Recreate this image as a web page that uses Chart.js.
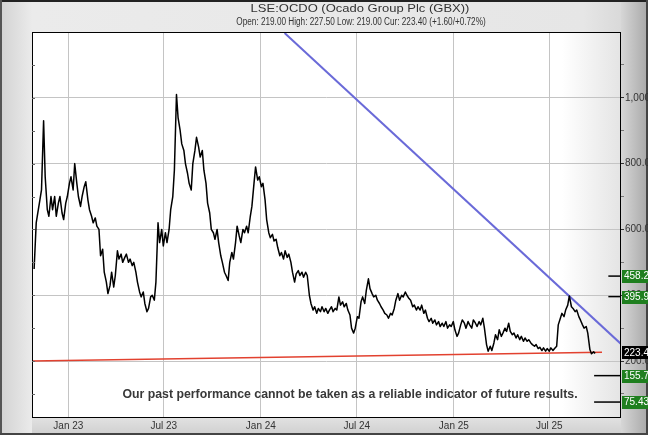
<!DOCTYPE html>
<html><head><meta charset="utf-8">
<script src="https://cdn.jsdelivr.net/npm/chart.js@4.4.1/dist/chart.umd.min.js"></script>
<style>
html,body{margin:0;padding:0;background:#e6e6e6;overflow:hidden;}
canvas{display:block;}
</style></head><body>
<canvas id="c" width="648" height="435"></canvas>
<script>
// Friday closes
const dates = [
'2022-10-28','2022-11-04','2022-11-11','2022-11-18','2022-11-25','2022-12-02','2022-12-09','2022-12-16','2022-12-23','2022-12-30',
'2023-01-06','2023-01-13','2023-01-20','2023-01-27','2023-02-03','2023-02-10','2023-02-17','2023-02-24',
'2023-03-03','2023-03-10','2023-03-17','2023-03-24','2023-03-31','2023-04-07','2023-04-14','2023-04-21','2023-04-28',
'2023-05-05','2023-05-12','2023-05-19','2023-05-26','2023-06-02','2023-06-09','2023-06-16','2023-06-23','2023-06-30',
'2023-07-07','2023-07-14','2023-07-21','2023-07-28','2023-08-04','2023-08-11','2023-08-18','2023-08-25',
'2023-09-01','2023-09-08','2023-09-15','2023-09-22','2023-09-29','2023-10-06','2023-10-13','2023-10-20','2023-10-27',
'2023-11-03','2023-11-10','2023-11-17','2023-11-24','2023-12-01','2023-12-08','2023-12-15','2023-12-22','2023-12-29',
'2024-01-05','2024-01-12','2024-01-19','2024-01-26','2024-02-02','2024-02-09','2024-02-16','2024-02-23',
'2024-03-01','2024-03-08','2024-03-15','2024-03-22','2024-03-29','2024-04-05','2024-04-12','2024-04-19','2024-04-26',
'2024-05-03','2024-05-10','2024-05-17','2024-05-24','2024-05-31','2024-06-07','2024-06-14','2024-06-21','2024-06-28',
'2024-07-05','2024-07-12','2024-07-19','2024-07-26','2024-08-02','2024-08-09','2024-08-16','2024-08-23','2024-08-30',
'2024-09-06','2024-09-13','2024-09-20','2024-09-27','2024-10-04','2024-10-11','2024-10-18','2024-10-25',
'2024-11-01','2024-11-08','2024-11-15','2024-11-22','2024-11-29','2024-12-06','2024-12-13','2024-12-20','2024-12-27',
'2025-01-03','2025-01-10','2025-01-17','2025-01-24','2025-01-31','2025-02-07','2025-02-14','2025-02-21','2025-02-28',
'2025-03-07','2025-03-14','2025-03-21','2025-03-28','2025-04-04','2025-04-11','2025-04-18','2025-04-25',
'2025-05-02','2025-05-09','2025-05-16','2025-05-23','2025-05-30','2025-06-06','2025-06-13','2025-06-20','2025-06-27',
'2025-07-04','2025-07-11','2025-07-18','2025-07-25','2025-08-01','2025-08-08','2025-08-15','2025-08-22','2025-08-29',
'2025-09-05','2025-09-12','2025-09-19','2025-09-26'
];
const prices = [
480,650,720,760,640,660,640,700,630,700,
760,800,700,700,745,660,620,610,
520,470,405,470,460,510,500,525,510,
500,440,395,375,360,400,440,560,550,
560,660,780,940,860,800,740,800,
880,820,780,680,600,570,560,500,460,
500,510,610,560,590,590,670,790,760,
740,630,575,565,545,530,535,525,
470,465,460,455,460,375,365,360,365,
360,355,350,355,370,365,355,300,300,
330,395,415,420,395,385,365,345,330,
340,385,385,395,400,385,370,365,
370,355,320,315,310,305,305,300,305,
295,285,325,300,310,325,305,310,300,
230,232,280,295,285,290,290,285,
280,275,270,265,250,250,242,240,238,
240,238,310,345,355,398,360,355,325,
300,285,222,223.4
];
// Tuesday closes
const midDates = [
'2022-11-01','2022-11-08','2022-11-15','2022-11-22','2022-11-29','2022-12-06','2022-12-13','2022-12-20','2022-12-27','2023-01-03',
'2023-01-10','2023-01-17','2023-01-24','2023-01-31','2023-02-07','2023-02-14','2023-02-21','2023-02-28',
'2023-03-07','2023-03-14','2023-03-21','2023-03-28','2023-04-04','2023-04-11','2023-04-18','2023-04-25','2023-05-02',
'2023-05-09','2023-05-16','2023-05-23','2023-05-30','2023-06-06','2023-06-13','2023-06-20','2023-06-27','2023-07-04',
'2023-07-11','2023-07-18','2023-07-25','2023-08-01','2023-08-08','2023-08-15','2023-08-22','2023-08-29',
'2023-09-05','2023-09-12','2023-09-19','2023-09-26','2023-10-03','2023-10-10','2023-10-17','2023-10-24','2023-10-31',
'2023-11-07','2023-11-14','2023-11-21','2023-11-28','2023-12-05','2023-12-12','2023-12-19','2023-12-26','2024-01-02',
'2024-01-09','2024-01-16','2024-01-23','2024-01-30','2024-02-06','2024-02-13','2024-02-20','2024-02-27',
'2024-03-05','2024-03-12','2024-03-19','2024-03-26','2024-04-02','2024-04-09','2024-04-16','2024-04-23','2024-04-30',
'2024-05-07','2024-05-14','2024-05-21','2024-05-28','2024-06-04','2024-06-11','2024-06-18','2024-06-25','2024-07-02',
'2024-07-09','2024-07-16','2024-07-23','2024-07-30','2024-08-06','2024-08-13','2024-08-20','2024-08-27','2024-09-03',
'2024-09-10','2024-09-17','2024-09-24','2024-10-01','2024-10-08','2024-10-15','2024-10-22','2024-10-29',
'2024-11-05','2024-11-12','2024-11-19','2024-11-26','2024-12-03','2024-12-10','2024-12-17','2024-12-24','2024-12-31',
'2025-01-07','2025-01-14','2025-01-21','2025-01-28','2025-02-04','2025-02-11','2025-02-18','2025-02-25','2025-03-04',
'2025-03-11','2025-03-18','2025-03-25','2025-04-01','2025-04-08','2025-04-15','2025-04-22','2025-04-29',
'2025-05-06','2025-05-13','2025-05-20','2025-05-27','2025-06-03','2025-06-10','2025-06-17','2025-06-24','2025-07-01',
'2025-07-08','2025-07-15','2025-07-22','2025-07-29','2025-08-05','2025-08-12','2025-08-19','2025-08-26','2025-09-02',
'2025-09-09','2025-09-16','2025-09-23'
];
const midPrices = [
620,690,930,660,700,700,680,650,680,740,
720,740,670,730,690,640,635,600,
540,440,430,425,535,525,515,500,490,
470,410,410,350,395,385,620,600,590,
600,700,1010,900,840,770,720,840,
850,840,740,650,590,600,520,470,445,
530,560,580,600,610,640,740,750,730,
690,590,585,570,520,510,515,500,
440,475,470,470,400,355,345,350,350,
345,365,360,395,380,375,340,285,335,
380,375,450,405,400,375,355,340,345,
360,405,400,410,390,365,355,355,
345,330,330,325,320,315,320,310,320,
275,310,315,320,300,315,320,330,250,
245,255,265,275,300,315,280,270,
265,260,260,255,245,238,232,230,230,
232,245,330,335,370,365,350,335,310,
305,235,228
];
const xRange = ['2022-10-24','2025-11-14'];
const yRange = [30, 1200];
const yTickValues = [100,200,300,400,500,600,700,800,900,1000,1100];
const tickDates = ['2023-01-01','2023-07-01','2024-01-01','2024-07-01','2025-01-01','2025-07-01'];
const tickLabels = ['Jan 23','Jul 23','Jan 24','Jul 24','Jan 25','Jul 25'];
const resistanceDates = ['2024-02-15','2025-11-14'];
const resistanceValues = [1197, 252];
const supportDates = ['2022-10-24','2025-10-09'];
const supportValues = [200, 227];
const levelValues = [458.2, 395.9, 155.7, 75.43];
const levelLabels = ['458.2','395.9','155.7','75.43'];
const levelStartDates = ['2025-10-21','2025-10-21','2025-09-24','2025-09-24'];
const levelEndDate = '2025-11-14';
const currentValue = 223.4;
const currentLabel = '223.4';
const titleText = 'LSE:OCDO (Ocado Group Plc (GBX))';
const subtitleText = 'Open: 219.00 High: 227.50 Low: 219.00 Cur: 223.40 (+1.60/+0.72%)';
const disclaimerText = 'Our past performance cannot be taken as a reliable indicator of future results.';

const FONT = '"Liberation Sans", Arial, sans-serif';
const ORIGIN = Date.UTC(2023,0,1);
function dayNum(s){ const p = s.split('-').map(Number); return (Date.UTC(p[0],p[1]-1,p[2]) - ORIGIN)/86400000; }

const pricePoints = dates.map((d,i)=>({x:dayNum(d), y:prices[i]}))
  .concat(midDates.map((d,i)=>({x:dayNum(d), y:midPrices[i]})))
  .sort((a,b)=>a.x-b.x);

const datasets = [
  {data: pricePoints, borderColor:'#000', borderWidth:1.5, pointRadius:0, tension:0},
  {data: resistanceDates.map((d,i)=>({x:dayNum(d), y:resistanceValues[i]})), borderColor:'#6a6ad8', borderWidth:2, pointRadius:0},
  {data: supportDates.map((d,i)=>({x:dayNum(d), y:supportValues[i]})), borderColor:'#e2412f', borderWidth:1.5, pointRadius:0}
];
levelValues.forEach((v,i)=>{
  datasets.push({data:[{x:dayNum(levelStartDates[i]), y:v},{x:dayNum(levelEndDate), y:v}], borderColor:'#000', borderWidth:1.5, pointRadius:0});
});

const framePlugin = {
  id:'frame',
  beforeDraw(chart){
    const ctx = chart.ctx, W = chart.width, H = chart.height, a = chart.chartArea;
    ctx.save();
    let g = ctx.createLinearGradient(0,0,W,0);
    g.addColorStop(0,'#d2d2d2'); g.addColorStop(0.05,'#ebebeb'); g.addColorStop(0.9,'#e6e6e6'); g.addColorStop(1,'#d0d0d0');
    ctx.fillStyle = g; ctx.fillRect(0,0,W,H);
    g = ctx.createLinearGradient(a.right,0,W,0);
    g.addColorStop(0,'#d6d6d6'); g.addColorStop(1,'#a8a8a8');
    ctx.fillStyle = g; ctx.fillRect(a.right,0,W-a.right,H);
    g = ctx.createLinearGradient(0,a.bottom,0,H);
    g.addColorStop(0,'#e2e2e2'); g.addColorStop(1,'#cfcfcf');
    ctx.fillStyle = g; ctx.fillRect(a.left,a.bottom,a.right-a.left,H-a.bottom);
    ctx.fillStyle = '#222'; ctx.fillRect(0,0,W,2);
    ctx.fillStyle = '#555'; ctx.fillRect(0,0,2,H);
    ctx.fillStyle = '#444'; ctx.fillRect(W-2,0,2,H); ctx.fillRect(0,H-2,W,2);
    g = ctx.createLinearGradient(a.left,0,a.right,0);
    g.addColorStop(0,'#ffffff'); g.addColorStop(0.9,'#ffffff'); g.addColorStop(1,'#e4e4e4');
    ctx.fillStyle = g; ctx.fillRect(a.left,a.top,a.right-a.left,a.bottom-a.top);
    ctx.restore();
  },
  afterDraw(chart){
    const ctx = chart.ctx, a = chart.chartArea, ys = chart.scales.y, W = chart.width;
    ctx.save();
    ctx.strokeStyle = '#000'; ctx.lineWidth = 1;
    ctx.strokeRect(a.left+0.5, a.top+0.5, a.right-a.left-1, a.bottom-a.top);
    ctx.strokeStyle = '#666';
    yTickValues.forEach(v=>{ const y = Math.round(ys.getPixelForValue(v))+0.5; ctx.beginPath(); ctx.moveTo(a.left,y); ctx.lineTo(a.left+3,y); ctx.stroke(); });
    ctx.font = '10px ' + FONT; ctx.textBaseline = 'middle'; ctx.textAlign = 'left';
    levelValues.forEach((v,i)=>{
      const y = ys.getPixelForValue(v);
      ctx.fillStyle = '#1f7f1f'; ctx.fillRect(a.right+1, Math.round(y)-6, W-a.right, 13);
      ctx.fillStyle = '#ffffff'; ctx.fillText(levelLabels[i], a.right+3, y+0.5);
    });
    const yc = ys.getPixelForValue(currentValue);
    ctx.fillStyle = '#000'; ctx.fillRect(a.right+1, Math.round(yc)-7, W-a.right, 13);
    ctx.fillStyle = '#fff'; ctx.fillText(currentLabel, a.right+3, yc-0.5);
    ctx.fillStyle = '#333'; ctx.textAlign = 'center';
    ctx.save();
    ctx.translate(360, 9); ctx.scale(1.13, 1);
    ctx.font = '11.5px ' + FONT; ctx.fillText(titleText, 0, 0);
    ctx.restore();
    ctx.save();
    ctx.translate(361, 22); ctx.scale(0.82, 1);
    ctx.font = '10px ' + FONT; ctx.fillText(subtitleText, 0, 0);
    ctx.restore();
    ctx.font = 'bold 12.3px ' + FONT; ctx.fillStyle = '#383838';
    ctx.fillText(disclaimerText, 350, 395);
    ctx.restore();
  }
};

new Chart(document.getElementById('c'), {
  type:'line',
  data:{datasets},
  options:{
    responsive:false, animation:false, devicePixelRatio:1,
    layout:{padding:{left:32, top:32, right:0, bottom:0}},
    plugins:{legend:{display:false}, tooltip:{enabled:false}, title:{display:false}},
    elements:{line:{borderJoinStyle:'round'}},
    scales:{
      x:{type:'linear', min:dayNum(xRange[0]), max:dayNum(xRange[1]),
         afterBuildTicks:(s)=>{ s.ticks = tickDates.map(d=>({value:dayNum(d)})); },
         afterFit:(s)=>{ s.height = 18; },
         grid:{color:'#c4c4c4', drawTicks:false}, border:{display:false},
         ticks:{autoSkip:false, maxRotation:0, padding:3, color:'#333', font:{family:FONT, size:10},
                callback:(v,i)=>tickLabels[i]}},
      y:{type:'linear', position:'right', min:yRange[0], max:yRange[1],
         afterBuildTicks:(s)=>{ s.ticks = yTickValues.map(v=>({value:v})); },
         afterFit:(s)=>{ s.width = 27; },
         grid:{color:(c)=> (c.tick && c.tick.value%200===0) ? '#c4c4c4' : 'rgba(0,0,0,0)',
               tickColor:(c)=> (c.tick && c.tick.value%200===0) ? '#333' : '#777', tickLength:3},
         border:{display:false},
         ticks:{autoSkip:false, padding:1, color:'#333', font:{family:FONT, size:10},
                callback:(v)=> v%200===0 ? v.toLocaleString('en-US',{minimumFractionDigits:1, maximumFractionDigits:1}) : ''}}
    }
  },
  plugins:[framePlugin]
});
</script>
</body></html>
